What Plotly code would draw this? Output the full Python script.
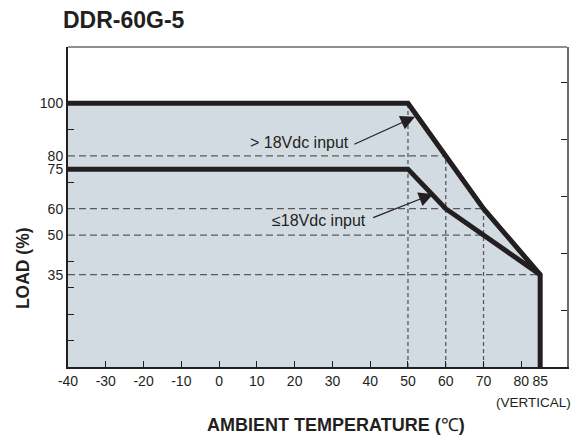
import plotly.graph_objects as go

# ---- data ----
temp_high = [-40, 50, 60, 70, 85, 85]
load_high = [100, 100, 80, 60, 35, 0]
temp_low = [-40, 50, 60, 70, 85]
load_low = [75, 75, 60, 50, 35]

# dashed guide lines: horizontal (load level -> end temperature), vertical (temperature -> top load)
h_guide_loads = [80, 60, 50, 35]
h_guide_end_temps = [60, 70, 70, 85]
v_guide_temps = [50, 60, 70]
v_guide_top_loads = [100, 80, 60]

x_tick_vals = [-40, -30, -20, -10, 0, 10, 20, 30, 40, 50, 60, 70, 80, 85]
y_tick_vals = [100, 80, 75, 60, 50, 35]
y_minor_vals = [10, 20, 30, 40, 70, 90]

FONT = "Liberation Sans, Arial"
LINE_C = "#231f20"
FILL_C = "#d3dbe2"
DASH_C = "#5a5a5a"

fig = go.Figure()

# shaded area under the upper curve
fig.add_trace(go.Scatter(
    x=[temp_high[0]] + temp_high + [temp_high[0]],
    y=[0] + load_high + [0],
    fill="toself", fillcolor=FILL_C, mode="lines", line=dict(width=0),
    hoverinfo="skip", showlegend=False))

# dashed guides
hx, hy = [], []
for ld, te in zip(h_guide_loads, h_guide_end_temps):
    hx += [-40, te, None]
    hy += [ld, ld, None]
fig.add_trace(go.Scatter(x=hx, y=hy, mode="lines",
                         line=dict(color=DASH_C, width=1.3, dash="7px,4px"),
                         showlegend=False, hoverinfo="skip"))
vx, vy = [], []
for te, ld in zip(v_guide_temps, v_guide_top_loads):
    vx += [te, te, None]
    vy += [0, ld, None]
fig.add_trace(go.Scatter(x=vx, y=vy, mode="lines",
                         line=dict(color=DASH_C, width=1.3, dash="4px,3px"),
                         showlegend=False, hoverinfo="skip"))

# derating curves
fig.add_trace(go.Scatter(x=temp_low, y=load_low, mode="lines",
                         line=dict(color=LINE_C, width=5), showlegend=False))
fig.add_trace(go.Scatter(x=temp_high, y=load_high, mode="lines",
                         line=dict(color=LINE_C, width=5), showlegend=False))

fig.update_layout(
    width=574, height=438,
    margin=dict(l=68, r=7, t=47, b=71),
    paper_bgcolor="white", plot_bgcolor="white",
    font=dict(family=FONT, size=14, color="#231f20"),
    xaxis=dict(range=[-40, 92.1], tickvals=x_tick_vals,
               ticktext=[str(v) for v in x_tick_vals], tickangle=0,
               ticks="inside", ticklen=6, tickwidth=1.3, tickcolor=LINE_C,
               showgrid=False, zeroline=False, showline=True,
               linecolor=LINE_C, linewidth=2, fixedrange=True, automargin=False),
    yaxis=dict(range=[0, 121.3], tickvals=y_tick_vals,
               ticktext=[str(v) for v in y_tick_vals],
               ticks="", showgrid=False, zeroline=False, showline=True,
               linecolor=LINE_C, linewidth=2,
               minor=dict(tickvals=y_minor_vals, ticks="inside", ticklen=6,
                          tickwidth=1.3, tickcolor=LINE_C),
               fixedrange=True, automargin=False),
    yaxis2=dict(range=[0, 5.614], overlaying="y", side="right", dtick=1,
                ticks="inside", ticklen=6, tickwidth=1.3, tickcolor=LINE_C,
                showticklabels=False, showgrid=False, zeroline=False,
                showline=True, linecolor="#6b6b6b", linewidth=1.5,
                fixedrange=True, automargin=False),
    shapes=[dict(type="line", xref="paper", yref="paper", x0=0, x1=1, y0=1, y1=1,
                 line=dict(color="#6b6b6b", width=1.5))],
)
# dummy trace to activate the right axis
fig.add_trace(go.Scatter(x=[None], y=[None], yaxis="y2", showlegend=False))

annotations = [
    dict(text="<b>DDR-60G-5</b>", xref="paper", yref="paper", x=0, y=1,
         xshift=-7, yshift=27, xanchor="left", yanchor="middle",
         showarrow=False, font=dict(size=23)),
    dict(text="<b>LOAD (%)</b>", xref="paper", yref="paper", x=0, y=0.309,
         xshift=-45, textangle=-90, xanchor="center", yanchor="middle",
         showarrow=False, font=dict(size=17.5)),
    dict(text="<b>AMBIENT TEMPERATURE (</b>℃<b>)</b>", xref="paper", yref="paper",
         x=0.537, y=0, yshift=-58, xanchor="center", yanchor="middle",
         showarrow=False, font=dict(size=18)),
    dict(text="(VERTICAL)", xref="paper", yref="paper", x=1, y=0, xshift=6,
         yshift=-35, xanchor="right", yanchor="middle", showarrow=False,
         font=dict(size=13.5)),
    dict(text="> 18Vdc input", xref="x", yref="y", x=34.8, y=85.1,
         xanchor="right", yanchor="middle", showarrow=False,
         font=dict(size=16)),
    dict(text="≤18Vdc input", xref="x", yref="y", x=39.4, y=55.7,
         xanchor="right", yanchor="middle", showarrow=False,
         font=dict(size=16)),
    dict(text="", x=51.85, y=94.9, ax=35.4, ay=84.2, xref="x", yref="y",
         axref="x", ayref="y", showarrow=True, arrowhead=2, arrowsize=2.4,
         arrowwidth=1.2, arrowcolor=LINE_C, standoff=0, startstandoff=0),
    dict(text="", x=56.7, y=65.6, ax=40.4, ay=56.4, xref="x", yref="y",
         axref="x", ayref="y", showarrow=True, arrowhead=2, arrowsize=2.4,
         arrowwidth=1.2, arrowcolor=LINE_C, standoff=0, startstandoff=0),
]
fig.update_layout(annotations=annotations)

fig.write_html("out.html", config={"displayModeBar": False},
               post_script="document.body.style.margin='0px';document.body.style.overflow='hidden';")
